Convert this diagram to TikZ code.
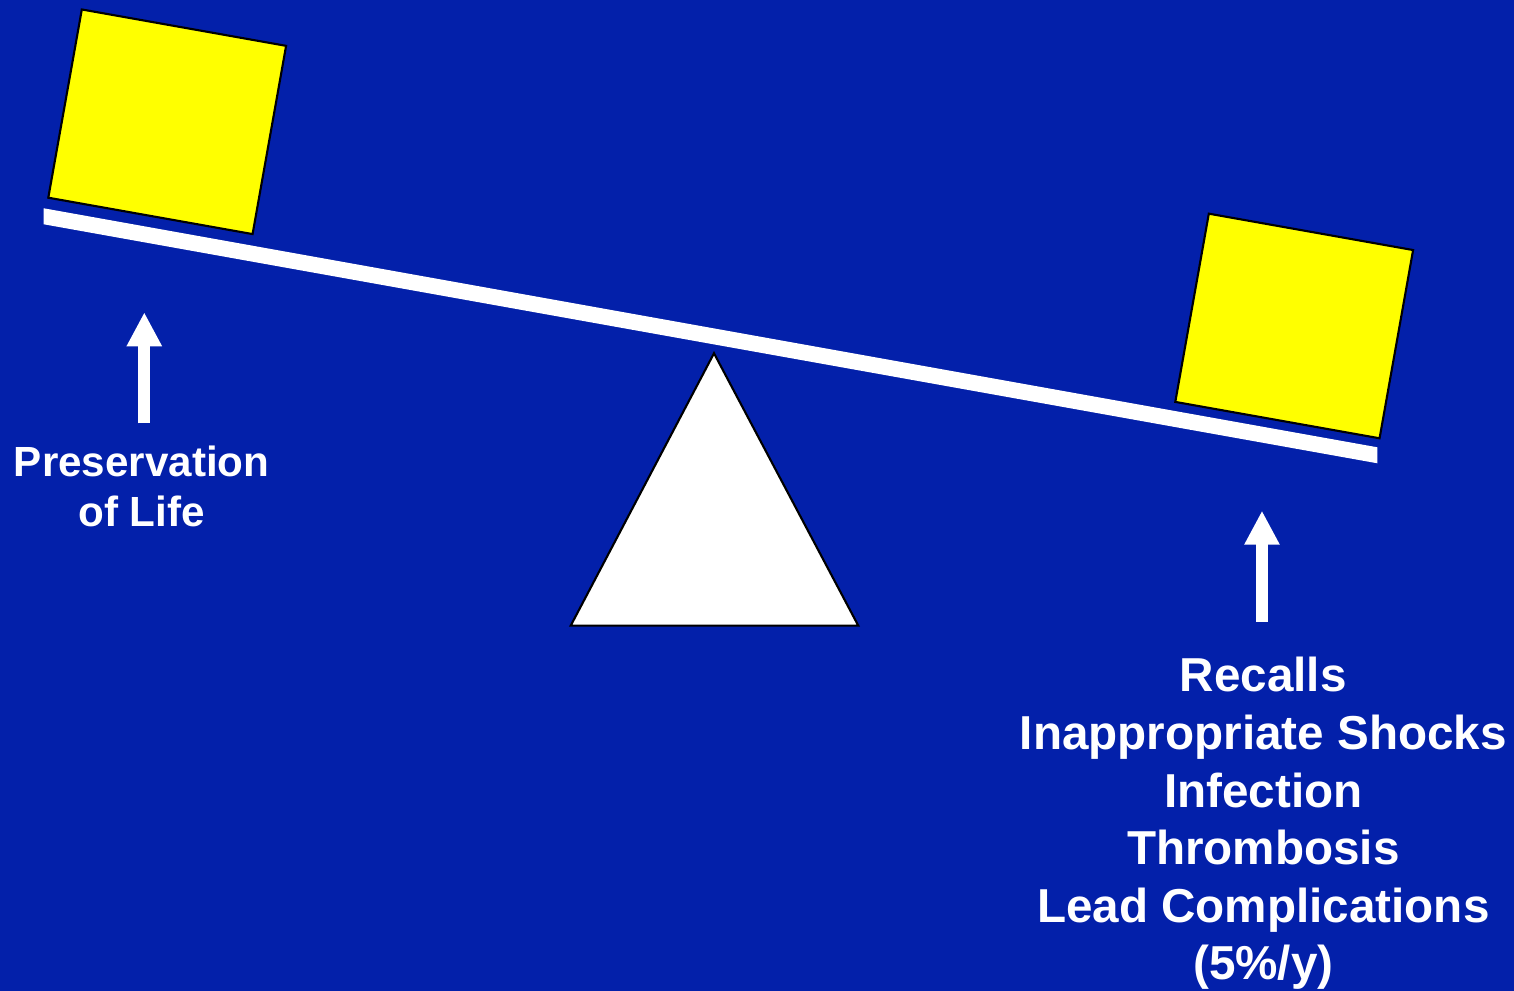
\documentclass[tikz,border=0pt]{standalone}
\usepackage{xcolor}
\usepackage{fontspec}
\setmainfont{Liberation Sans}
\usepackage{tikz}
\usetikzlibrary{arrows.meta, positioning}

\definecolor{slideblue}{RGB}{3,32,170}
\definecolor{weightyellow}{RGB}{255,255,0}

\begin{document}
\begin{tikzpicture}[
  weight/.style={rectangle, draw=black, line width=0.6pt, fill=weightyellow,
                 minimum width=2.075cm, minimum height=1.912cm, rotate=-10.1},
  beam/.style={fill=white},
  pivot/.style={fill=white, draw=black, line width=0.6pt},
  uparrow/.style={white, line width=0.12cm,
                  -{Triangle[length=0.34cm, width=0.33cm]}},
  leftlabel/.style={text=white, align=center, inner sep=0pt, anchor=base,
                    font=\fontsize{12pt}{14.4pt}\selectfont\bfseries},
  rightlabel/.style={text=white, align=center, inner sep=0pt, anchor=base,
                     font=\fontsize{13.55pt}{16.4pt}\selectfont\bfseries}
]

\useasboundingbox (0,0) rectangle (15.14,9.91);
\fill[slideblue] (0,0) rectangle (15.14,9.91);

% seesaw
\fill[beam] (0.437,7.827) -- (13.773,5.437) -- (13.773,5.277) -- (0.437,7.667) -- cycle;
\filldraw[pivot] (7.14,6.377) -- (8.583,3.653) -- (5.707,3.653) -- cycle;

\node[weight] (lifeweight) at (1.672,8.692) {};
\node[weight] (riskweight) at (12.942,6.650) {};

% labels (base = last line)
\node[leftlabel] (life) at (1.417,4.643) {Preservation\\of Life};
\node[rightlabel] (risks) at (12.633,0.11) {Recalls\\Inappropriate Shocks\\Infection\\Thrombosis\\Lead Complications\\(5\%/y)};

\coordinate (lifetail) at (1.443,5.677);
\coordinate (lifetip) at (1.443,6.787);
\coordinate (risktail) at (12.62,3.69);
\coordinate (risktip) at (12.62,4.803);

\draw[uparrow] (lifetail) -- (lifetip);
\draw[uparrow] (risktail) -- (risktip);

\end{tikzpicture}
\end{document}
